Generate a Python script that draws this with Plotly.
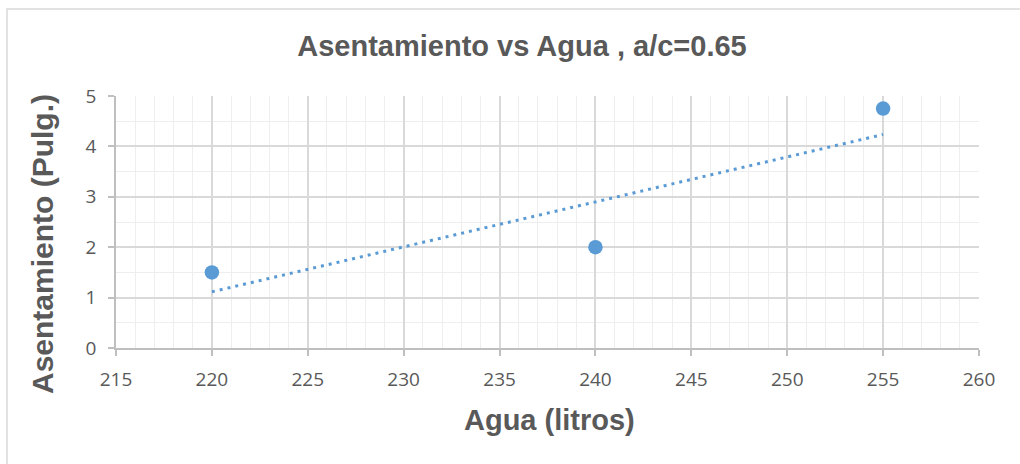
import numpy as np
import plotly.graph_objects as go

# Data: water content (litres) vs slump (inches)
agua = [220, 240, 255]
asentamiento = [1.5, 2.0, 4.75]

x_ticks = [215, 220, 225, 230, 235, 240, 245, 250, 255, 260]
y_ticks = [0, 1, 2, 3, 4, 5]

# Linear trendline (least squares)
slope, intercept = np.polyfit(agua, asentamiento, 1)
trend_x = [min(agua), max(agua)]
trend_y = [slope * v + intercept for v in trend_x]

BLUE = "#5B9BD5"
TEXT = "#595959"
L, R, T, B = 116, 41, 96, 116
W, H = 1020, 464
pw, ph = W - L - R, H - T - B

fig = go.Figure()
fig.add_trace(go.Scatter(
    x=trend_x, y=trend_y, mode="lines",
    line=dict(color=BLUE, width=3, dash="3px,5px"),
    hoverinfo="skip", showlegend=False,
))
fig.add_trace(go.Scatter(
    x=agua, y=asentamiento, mode="markers",
    marker=dict(color=BLUE, size=14.5),
    showlegend=False,
))

fig.update_layout(
    width=W, height=H,
    margin=dict(l=L, r=R, t=T, b=B),
    paper_bgcolor="white", plot_bgcolor="white",
    font=dict(family="Open Sans", color=TEXT),
    title=dict(
        text="<b>Asentamiento vs Agua , a/c=0.65</b>",
        font=dict(family="Liberation Sans", size=29, color=TEXT),
        x=522 / W, xanchor="center",
        y=1 - 46 / H, yanchor="middle", yref="container",
    ),
)

fig.update_xaxes(
    range=[215, 260], tickvals=x_ticks, ticktext=[str(v) for v in x_ticks],
    showgrid=True, gridcolor="#d9d9d9", gridwidth=1.5,
    minor=dict(dtick=1, showgrid=True, gridcolor="#eeeeee", gridwidth=1),
    showline=True, linecolor="#bfbfbf", linewidth=1.5,
    ticks="outside", ticklen=6, tickcolor="#bfbfbf", tickwidth=1.5,
    tickfont=dict(size=19, color=TEXT), ticklabelstandoff=7,
    zeroline=False,
)
fig.update_yaxes(
    range=[0, 5], tickvals=y_ticks, ticktext=[str(v) for v in y_ticks],
    showgrid=True, gridcolor="#d9d9d9", gridwidth=1.5,
    minor=dict(dtick=0.5, showgrid=True, gridcolor="#eeeeee", gridwidth=1),
    showline=True, linecolor="#bfbfbf", linewidth=1.5,
    ticks="outside", ticklen=6, tickcolor="#bfbfbf", tickwidth=1.5,
    tickfont=dict(size=19, color=TEXT), ticklabelstandoff=8,
    zeroline=False,
)

# Axis titles
fig.add_annotation(
    text="<b>Agua (litros)</b>", xref="paper", yref="paper",
    x=(549 - L) / pw, y=(H - B - 420) / ph,
    xanchor="center", yanchor="middle", showarrow=False,
    font=dict(family="Liberation Sans", size=29, color=TEXT),
)
fig.add_annotation(
    text="<b>Asentamiento (Pulg.)</b>", xref="paper", yref="paper",
    x=(42 - L) / pw, y=(H - B - 244) / ph, textangle=-90,
    xanchor="center", yanchor="middle", showarrow=False,
    font=dict(family="Liberation Sans", size=30, color=TEXT),
)

# Chart-area frame
fig.add_shape(
    type="rect", xref="paper", yref="paper",
    x0=(7 - L) / pw, x1=(W + 10 - L) / pw,
    y0=(H - B + 10 - H) / ph - 0.1, y1=(H - B - 9) / ph,
    line=dict(color="#d9d9d9", width=1.5), fillcolor="rgba(0,0,0,0)",
)

fig.write_html("out.html")
